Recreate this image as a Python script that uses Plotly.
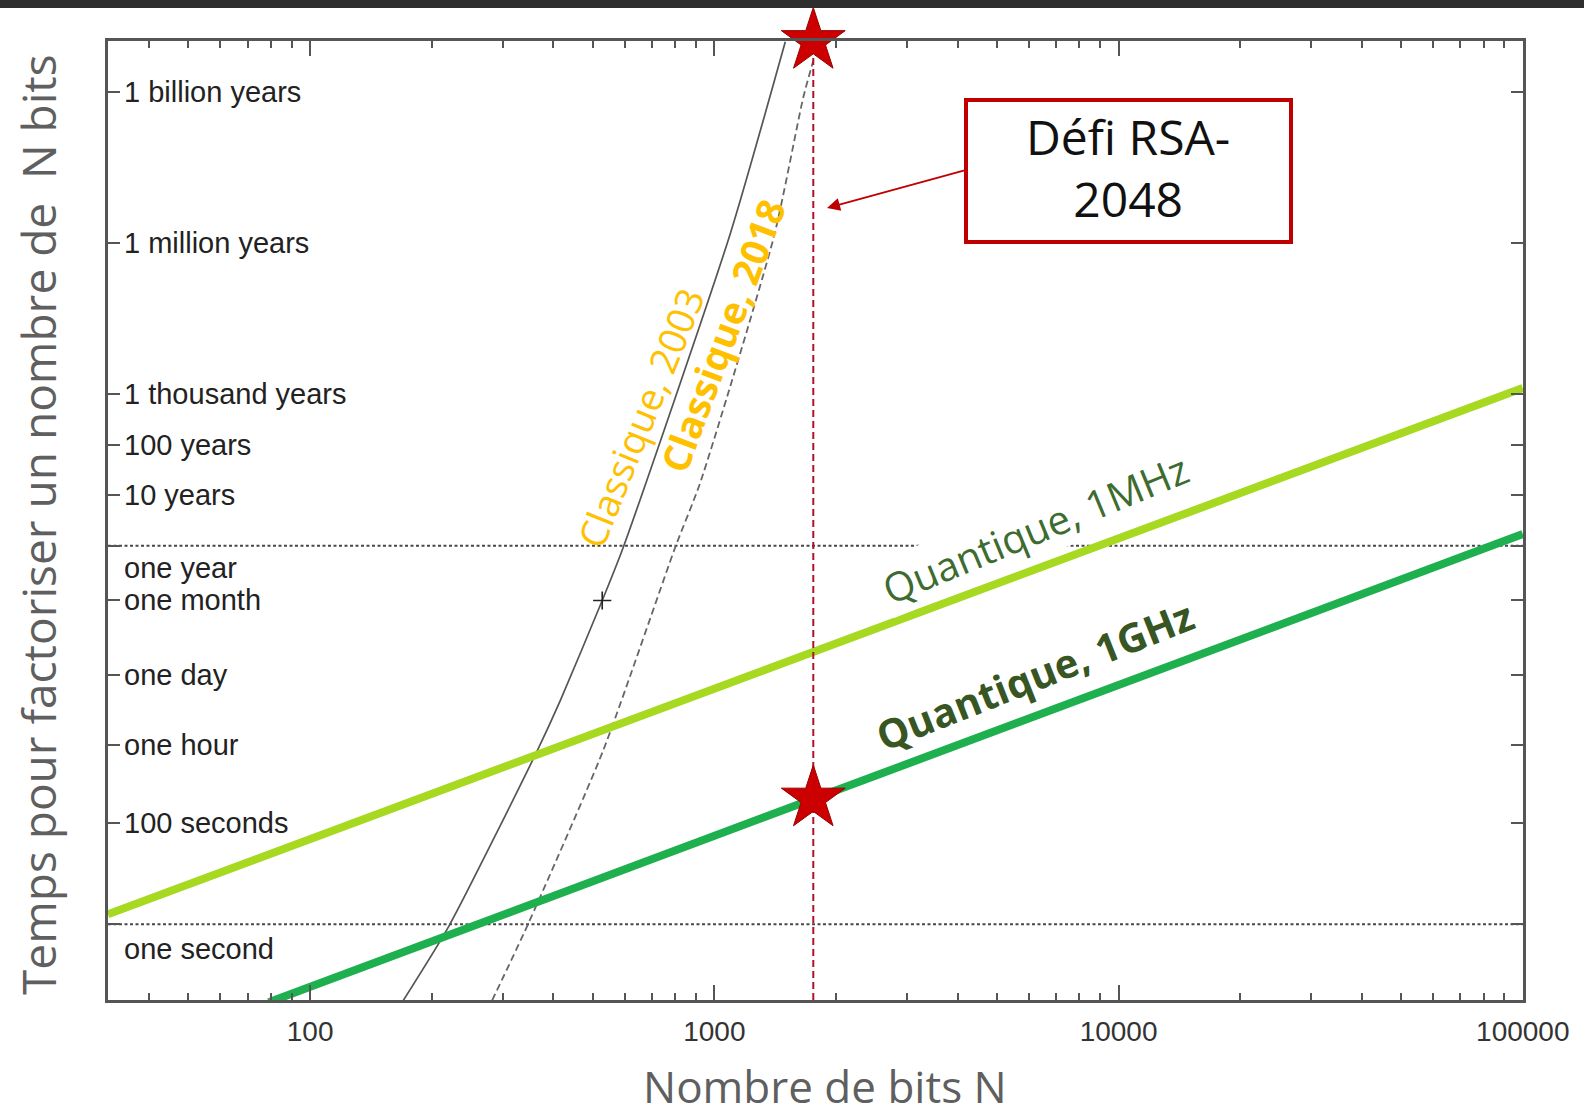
import math
import plotly.graph_objects as go

# ---------------------------------------------------------------- data
YEAR = 3.156e7  # seconds

# time landmarks on the vertical axis (seconds) and their names
time_ticks_s = [1, 100, 3600, 86400, 2.63e6, YEAR, 10 * YEAR, 100 * YEAR,
                1e3 * YEAR, 1e6 * YEAR, 1e9 * YEAR]
time_tick_labels = ["one second", "100 seconds", "one hour", "one day", "one month",
                    "one year", "10 years", "100 years", "1 thousand years",
                    "1 million years", "1 billion years"]

# bit-size ticks
bits_ticks = [100, 1000, 10000, 100000]
bits_tick_labels = ["100", "1000", "10000", "100000"]

# classical factoring (number field sieve), 2003 estimate
classic_2003_bits = [170, 221, 365, 416, 528, 595, 1095, 1498]
classic_2003_time = [0.031, 0.955, 2790, 27300, 2.6e6, 2.92e7, 4.8e13, 3.05e17]

# known factoring record on the 2003 curve (512 bits, about one month)
record_bits = [528]
record_time = [2.6e6]

# classical factoring, 2018 estimate
classic_2018_bits = [282, 345, 531, 800, 923, 1406, 1659, 1757]
classic_2018_time = [0.031, 0.955, 2790, 2.92e7, 5.65e8, 4.4e13, 2.38e16, 1.29e17]

# Shor's algorithm at two clock rates
quantum_1mhz_bits = [31.6, 100000]
quantum_1mhz_time = [1.58, 4.2e10]
quantum_1ghz_bits = [79, 100000]
quantum_1ghz_time = [0.0285, 5.4e7]

# RSA challenge key size and its factoring times
rsa_bits = 1757
rsa_time_classic = 3.16e17
rsa_time_quantum = 310

# ---------------------------------------------------------------- layout constants
W, H = 1584, 1115
ML, MR, MT, MB = 108, 61, 41, 115
PW, PH = W - ML - MR, H - MT - MB
X_RANGE = [1.5, 5.0005]
Y_RANGE = [-1.5, 17.5]

AXIS = "#555555"
ORANGE = "#ffc000"
LIGHT_GREEN = "#a6d91f"
GREEN = "#1eb04f"
RED = "#c00000"


def px(x):
    return (x - ML) / PW


def py(y):
    return (H - MB - y) / PH


fig = go.Figure()

# dotted reference lines at one second and one year
for t in (time_ticks_s[0], time_ticks_s[5]):
    fig.add_trace(go.Scatter(
        x=[10 ** X_RANGE[0], 10 ** X_RANGE[1]], y=[t, t], mode="lines",
        line=dict(color="#484848", width=2, dash="3px,2.5px"), hoverinfo="skip"))

fig.add_trace(go.Scatter(
    x=classic_2003_bits, y=classic_2003_time, mode="lines",
    line=dict(color="#555555", width=1.7, shape="spline", smoothing=0.6)))
fig.add_trace(go.Scatter(
    x=classic_2018_bits, y=classic_2018_time, mode="lines",
    line=dict(color="#666666", width=1.8, dash="7px,4px", shape="spline", smoothing=0.6)))
fig.add_trace(go.Scatter(
    x=record_bits, y=record_time, mode="markers",
    marker=dict(symbol="cross-thin", size=13, line=dict(color="#222222", width=1.6))))

fig.add_trace(go.Scatter(
    x=quantum_1mhz_bits, y=quantum_1mhz_time, mode="lines",
    line=dict(color=LIGHT_GREEN, width=8)))
fig.add_trace(go.Scatter(
    x=quantum_1ghz_bits, y=quantum_1ghz_time, mode="lines",
    line=dict(color=GREEN, width=8)))

# RSA challenge marker line and stars
fig.add_trace(go.Scatter(
    x=[rsa_bits, rsa_bits], y=[10 ** Y_RANGE[0], rsa_time_classic], mode="lines",
    line=dict(color="#b0122c", width=2, dash="7px,4px")))
fig.add_trace(go.Scatter(
    x=[rsa_bits, rsa_bits], y=[rsa_time_classic, rsa_time_quantum], mode="markers",
    cliponaxis=False,
    marker=dict(symbol="star", size=48, color="#cc0000",
                line=dict(color="#990000", width=1))))

annotations = []

# time labels inside the plot, beside the left ticks
label_shift = {"one second": -25, "one year": -22}
for t, lab in zip(time_ticks_s, time_tick_labels):
    annotations.append(dict(
        xref="paper", yref="y", x=0, y=math.log10(t), xanchor="left", yanchor="middle",
        xshift=14, yshift=label_shift.get(lab, 0), text=lab, showarrow=False,
        font=dict(family="Liberation Sans, Arial", size=29, color="#222222")))

# curve names
curve_labels = [
    ("Classique, 2003", 640, 418, -68, ORANGE, "normal", None),
    ("Classique, 2018", 722, 336, -69.5, ORANGE, "bold", None),
    ("Quantique, 1MHz", 1035, 528, -22.4, "#3d6b30", "normal", "white"),
    ("Quantique, 1GHz", 1034, 675, -21.6, "#375623", "bold", None),
]
for text, cx, cy, ang, col, wt, bg in curve_labels:
    ann = dict(
        xref="paper", yref="paper", x=px(cx), y=py(cy), xanchor="center", yanchor="middle",
        text=text, textangle=ang, showarrow=False,
        font=dict(family="Open Sans", size=38 if "Classique" in text else 40,
                  color=col, weight=wt))
    if bg:
        ann["bgcolor"] = bg
    annotations.append(ann)

# callout for the RSA challenge
annotations.append(dict(
    xref="paper", yref="paper", x=px(1128), y=py(168), xanchor="center", yanchor="middle",
    text="Défi RSA-<br>2048", showarrow=False,
    font=dict(family="Open Sans", size=48, color="#111111")))
annotations.append(dict(
    xref="paper", yref="paper", x=px(827), y=py(208), text="", showarrow=True,
    ax=966 - 827, ay=170 - 208, arrowhead=2, arrowsize=1.3, arrowwidth=2,
    arrowcolor=RED))

# axis titles
annotations.append(dict(
    xref="paper", yref="paper", x=px(825), y=py(1086), xanchor="center", yanchor="middle",
    text="Nombre de bits N", showarrow=False,
    font=dict(family="Open Sans", size=44, color="#5f5f5f")))
annotations.append(dict(
    xref="paper", yref="paper", x=px(38), y=py(525), xanchor="center", yanchor="middle",
    text="Temps pour factoriser un nombre de\u00a0 N bits", textangle=-90, showarrow=False,
    font=dict(family="Open Sans", size=46, color="#5f5f5f")))

shapes = [
    dict(type="rect", xref="paper", yref="paper", x0=px(966), x1=px(1291),
         y0=py(242), y1=py(100), line=dict(color=RED, width=4), fillcolor="white",
         layer="above"),
    dict(type="rect", xref="paper", yref="paper", x0=-0.2, x1=1.2,
         y0=py(8), y1=py(-20), line=dict(width=0), fillcolor="#2e2e2e", layer="above"),
]

minor_bits = [m * 10 ** e for e in range(1, 5) for m in range(2, 10) if m * 10 ** e > 31.6]

fig.update_layout(
    width=W, height=H, margin=dict(l=ML, r=MR, t=MT, b=MB),
    paper_bgcolor="white", plot_bgcolor="white", showlegend=False,
    annotations=annotations, shapes=shapes,
    xaxis=dict(
        type="log", range=X_RANGE, tickvals=bits_ticks, ticktext=bits_tick_labels,
        ticks="inside", ticklen=15, tickwidth=1.5, tickcolor=AXIS,
        showline=True, linecolor=AXIS, linewidth=2.5, mirror="ticks",
        showgrid=False, zeroline=False,
        tickfont=dict(family="Liberation Sans, Arial", size=28, color="#333333"),
        ticklabelstandoff=5,
        minor=dict(tickvals=minor_bits, ticks="inside", ticklen=7, tickwidth=1.5,
                   tickcolor=AXIS, showgrid=False),
    ),
    yaxis=dict(
        type="log", range=Y_RANGE, tickvals=time_ticks_s, showticklabels=False,
        ticks="inside", ticklen=12, tickwidth=1.5, tickcolor=AXIS,
        showline=True, linecolor=AXIS, linewidth=2.5, mirror="ticks",
        showgrid=False, zeroline=False,
    ),
)

fig.write_html("out.html")
